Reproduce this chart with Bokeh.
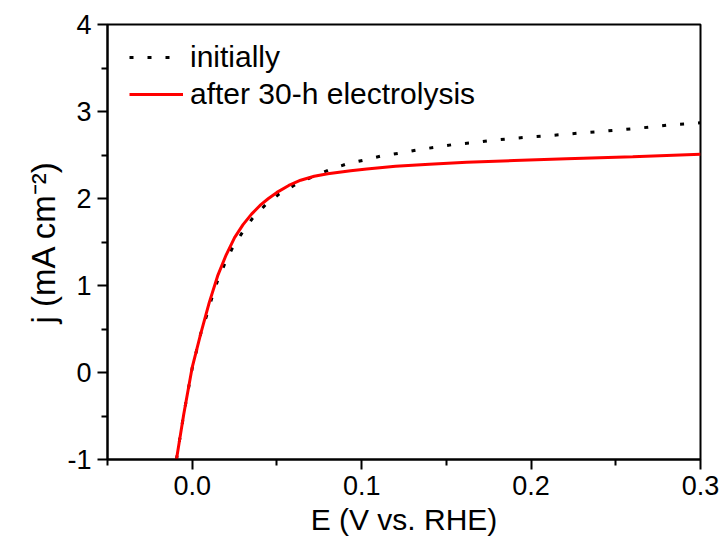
from bokeh.plotting import figure
from bokeh.models import FixedTicker, PrintfTickFormatter, Legend, LegendItem
from bokeh.embed import file_html
from bokeh.resources import INLINE

# ---- data ----
E_initial = [-0.0093, -0.005, 0.0, 0.005, 0.0086, 0.0115, 0.0149, 0.0192, 0.0237, 0.0296,
             0.0355, 0.0434, 0.0512, 0.060, 0.071, 0.081, 0.0916, 0.101, 0.111, 0.122,
             0.133, 0.144, 0.154, 0.165, 0.176, 0.187, 0.198, 0.209, 0.219, 0.230,
             0.241, 0.253, 0.262, 0.272, 0.283, 0.294, 0.300]
j_initial = [-1.0, -0.48, 0.05, 0.445, 0.66, 0.85, 1.05, 1.25, 1.43, 1.61,
             1.77, 1.93, 2.05, 2.15, 2.25, 2.33, 2.40, 2.44, 2.486, 2.52,
             2.56, 2.59, 2.62, 2.64, 2.667, 2.686, 2.705, 2.72, 2.736, 2.755,
             2.77, 2.79, 2.805, 2.825, 2.85, 2.86, 2.87]

E_after = [-0.0093, -0.005, 0.0, 0.005, 0.010, 0.015, 0.020, 0.025, 0.030, 0.035,
           0.040, 0.045, 0.050, 0.057, 0.064, 0.072, 0.080, 0.0935, 0.103, 0.120,
           0.140, 0.162, 0.190, 0.221, 0.260, 0.300]
j_after = [-1.0, -0.48, 0.06, 0.445, 0.80, 1.11, 1.35, 1.55, 1.70, 1.82,
           1.92, 2.00, 2.07, 2.15, 2.21, 2.255, 2.285, 2.32, 2.34, 2.37,
           2.395, 2.417, 2.437, 2.456, 2.48, 2.51]

x_major = [0.0, 0.1, 0.2, 0.3]
x_minor = [-0.05, 0.05, 0.15, 0.25]
y_major = [-1, 0, 1, 2, 3, 4]
y_minor = [-0.5, 0.5, 1.5, 2.5, 3.5]

series_names = ["initially", "after 30-h electrolysis"]
x_title = "E (V vs. RHE)"
y_title = "j (mA cm\u207b\u00b2)"

FONT = "Liberation Sans"

p = figure(frame_width=593, frame_height=435,
           x_range=(-0.05, 0.3), y_range=(-1, 4),
           output_backend="svg", toolbar_location=None,
           min_border_left=107, min_border_top=24,
           min_border_right=20, min_border_bottom=0)
p.background_fill_color = "white"
p.border_fill_color = "white"
p.grid.visible = False
p.outline_line_color = "black"
p.outline_line_width = 2
p.outline_line_alpha = 1

p.xaxis.ticker = FixedTicker(ticks=x_major, minor_ticks=x_minor)
p.yaxis.ticker = FixedTicker(ticks=y_major, minor_ticks=y_minor)
p.xaxis.formatter = PrintfTickFormatter(format="%.1f")
p.yaxis.formatter = PrintfTickFormatter(format="%d")

for ax in (p.xaxis, p.yaxis):
    ax.axis_line_color = "black"
    ax.axis_line_width = 2
    ax.major_tick_line_color = "black"
    ax.major_tick_line_width = 2
    ax.minor_tick_line_color = "black"
    ax.minor_tick_line_width = 2
    ax.major_tick_in = 0
    ax.major_tick_out = 10
    ax.minor_tick_in = 0
    ax.minor_tick_out = 6
    ax.major_label_text_font = FONT
    ax.major_label_text_font_size = "27px"
    ax.major_label_text_color = "black"
    ax.major_label_standoff = 6
    ax.axis_label_text_font = FONT
    ax.axis_label_text_font_style = "normal"
    ax.axis_label_text_color = "black"

p.xaxis.axis_label = x_title
p.xaxis.axis_label_text_font_size = "30px"
p.xaxis.axis_label_standoff = 5
p.yaxis.axis_label = y_title
p.yaxis.axis_label_text_font_size = "33px"
p.yaxis.axis_label_standoff = 2

r0 = p.line(E_initial, j_initial, line_color="black", line_width=3, line_dash="4 14")
r1 = p.line(E_after, j_after, line_color="#ff0000", line_width=3)

legend = Legend(items=[LegendItem(label=series_names[0], renderers=[r0]),
                       LegendItem(label=series_names[1], renderers=[r1])],
                location=(22, 348), orientation="vertical",
                margin=0, padding=0, spacing=3,
                glyph_width=54, glyph_height=30, label_height=30,
                label_standoff=7,
                label_text_font=FONT, label_text_font_size="30px",
                label_text_color="black",
                background_fill_alpha=0, border_line_alpha=0)
p.add_layout(legend)

open("out.html", "w").write(file_html(p, INLINE))
